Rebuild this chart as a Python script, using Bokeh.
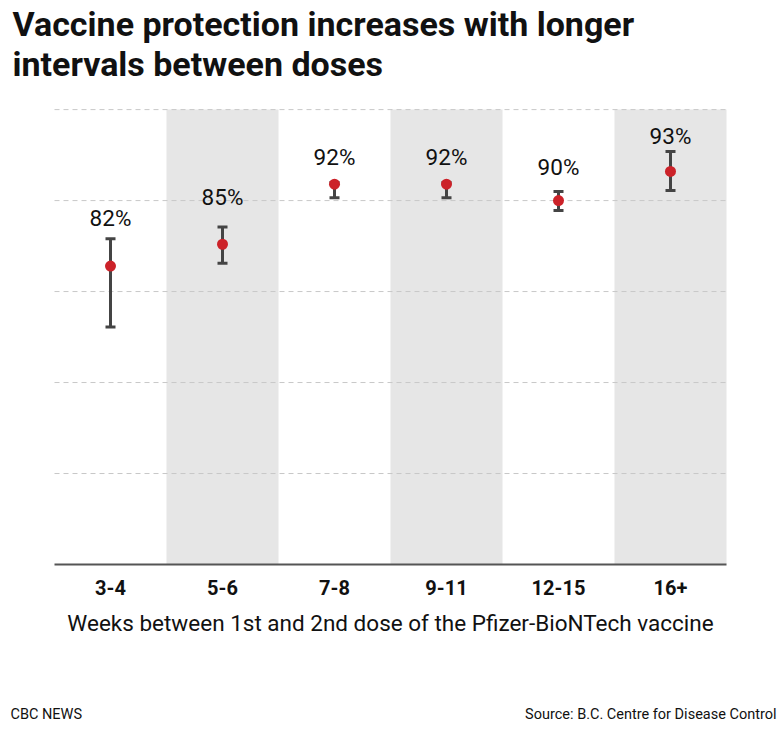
from bokeh.plotting import figure
from bokeh.layouts import column
from bokeh.models import Range1d, FixedTicker
from bokeh.embed import file_html
from bokeh.resources import INLINE
from bokeh.core.properties import value

# ---- data ----
categories = ["3-4", "5-6", "7-8", "9-11", "12-15", "16+"]
protection = [82.8, 85.2, 91.8, 91.8, 90.0, 93.2]
lower = [76.1, 83.1, 90.3, 90.3, 88.9, 91.1]
upper = [85.8, 87.1, 92.0, 92.0, 91.0, 95.4]
labels = ["82%", "85%", "92%", "92%", "90%", "93%"]
label_anchor = [88.05, 90.35, 94.75, 94.75, 93.65, 97.15]
shaded = ["5-6", "9-11", "16+"]
grid_ticks = [60, 70, 80, 90, 100]

title_lines = ["Vaccine protection increases with longer", "intervals between doses"]
x_title = "Weeks between 1st and 2nd dose of the Pfizer-BioNTech vaccine"
credit = "CBC NEWS"
source = "Source: B.C. Centre for Disease Control"

FONT = "Roboto"
W = 780
HEADER_H, MAIN_H, FOOTER_H = 100, 556, 73

n = len(categories)
xpos = [i + 0.5 for i in range(n)]
band_x = [xpos[categories.index(c)] for c in shaded]


def blank(height):
    f = figure(width=W, height=height, output_backend="svg", toolbar_location=None,
               x_range=Range1d(0, W), y_range=Range1d(height, 0),
               x_axis_location=None, y_axis_location=None, min_border=0)
    f.outline_line_color = None
    f.xgrid.visible = False
    f.ygrid.visible = False
    return f


# ---- header ----
head = blank(HEADER_H)
head.text(x=[12, 12], y=[23, 63], text=title_lines, text_font=value(FONT),
          text_font_size="34px", text_font_style="bold", text_color="#111111",
          text_baseline="middle", text_align="left")

# ---- main chart ----
pad = 54 / 112
p = figure(width=W, height=MAIN_H, output_backend="svg", toolbar_location=None,
           x_range=Range1d(-pad, n + pad), y_range=Range1d(50, 101),
           y_axis_location=None, min_border_left=0, min_border_right=0,
           min_border_top=0, min_border_bottom=92)
p.outline_line_color = None
p.xgrid.visible = False
p.ygrid.visible = False

p.vbar(x=band_x, top=100, bottom=50, width=1, fill_color="#e6e6e6",
       line_color=None, level="image")

p.segment(x0=[0] * len(grid_ticks), x1=[n] * len(grid_ticks), y0=grid_ticks,
          y1=grid_ticks, line_color="#c8c8c8", line_dash="5 4", line_width=1,
          level="underlay")

p.segment(x0=xpos, y0=lower, x1=xpos, y1=upper, line_width=3, line_color="#444444")
p.scatter(x=xpos, y=upper, marker="dash", size=10, line_width=3, line_color="#444444")
p.scatter(x=xpos, y=lower, marker="dash", size=10, line_width=3, line_color="#444444")
p.scatter(x=xpos, y=protection, size=11, fill_color="#cc2229", line_color=None)

p.text(x=xpos, y=label_anchor, text=labels, text_align="center",
       text_baseline="middle", text_font=value(FONT),
       text_font_size="22.5px", text_color="#111111")

ax = p.xaxis[0]
ax.ticker = FixedTicker(ticks=xpos)
ax.major_label_overrides = {x: c for x, c in zip(xpos, categories)}
ax.bounds = (0, n)
ax.axis_line_color = "#555555"
ax.axis_line_width = 2
ax.major_tick_line_color = None
ax.minor_tick_line_color = None
ax.major_label_standoff = 9
ax.major_label_text_font = FONT
ax.major_label_text_font_size = "20px"
ax.major_label_text_font_style = "bold"
ax.major_label_text_color = "#111111"
ax.axis_label = x_title
ax.axis_label_text_font = FONT
ax.axis_label_text_font_size = "22.5px"
ax.axis_label_text_font_style = "normal"
ax.axis_label_text_color = "#111111"
ax.axis_label_standoff = 12

# ---- footer ----
foot = blank(FOOTER_H)
foot.text(x=[10], y=[58], text=[credit], text_font=value(FONT),
          text_font_size="14.5px", text_color="#111111",
          text_baseline="middle", text_align="left")
foot.text(x=[776], y=[58], text=[source], text_font=value(FONT),
          text_font_size="14.5px", text_color="#111111",
          text_baseline="middle", text_align="right")

layout = column(head, p, foot, spacing=0)
open("out.html", "w").write(file_html(layout, INLINE))
